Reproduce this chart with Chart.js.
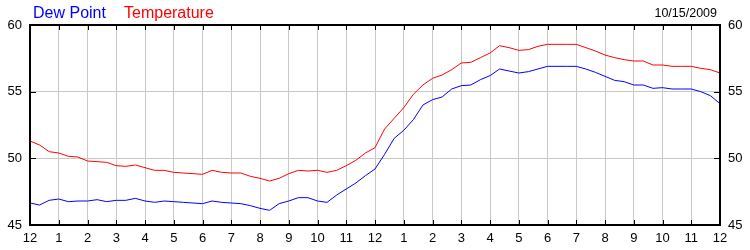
<!DOCTYPE html>
<html>
<head>
<meta charset="utf-8">
<script src="https://cdn.jsdelivr.net/npm/chart.js@4/dist/chart.umd.min.js"></script>
<style>
    body { margin: 0; background: #fff; font-family: "Liberation Sans", Arial, sans-serif; }
    #wrap { position: relative; width: 750px; height: 250px; }
    .hdr { position: absolute; white-space: nowrap; line-height: 16px; }
</style>
</head>
<body>
<div id="wrap">
    <canvas id="chart" width="750" height="250"></canvas>
    <span class="hdr" style="left:33px; top:5px; font-size:16px; color:#0000ff;">Dew Point</span>
    <span class="hdr" style="left:124px; top:5px; font-size:16px; color:#ff0000;">Temperature</span>
    <span class="hdr" style="right:33px; top:5px; font-size:12.5px; color:#000;">10/15/2009</span>
</div>
<script>
// 数据：每 20 分钟一个采样点，从 0 点到次日 0 点
const sampleMinutes = 20;

const dewPoint = [
    46.65, 46.5, 46.85, 46.95, 46.75, 46.8, 46.8, 46.9, 46.75, 46.85, 46.85, 47.0, 46.8, 46.7, 46.8, 46.75, 46.7, 46.65, 46.6,
    46.8, 46.7, 46.65, 46.6, 46.45, 46.25, 46.1, 46.6, 46.8, 47.05, 47.05, 46.8, 46.7, 47.25, 47.7, 48.15, 48.7, 49.2,
    50.3, 51.5, 52.1, 52.9, 54.0, 54.4, 54.6, 55.2, 55.45, 55.5, 55.9, 56.2, 56.7, 56.55, 56.4, 56.5,
    56.7, 56.9, 56.9, 56.9, 56.9, 56.7, 56.45, 56.15, 55.85, 55.75, 55.5, 55.5, 55.25, 55.3, 55.2, 55.2, 55.2, 55.0, 54.7, 54.1
];

const temperature = [
    51.3, 51.0, 50.5, 50.4, 50.15, 50.1, 49.8, 49.75, 49.7, 49.45, 49.4, 49.5, 49.3, 49.1, 49.1, 48.95, 48.9, 48.85, 48.8,
    49.1, 48.95, 48.9, 48.9, 48.65, 48.5, 48.3, 48.5, 48.85, 49.1, 49.05, 49.1, 48.95, 49.1, 49.45, 49.85, 50.4, 50.8,
    52.2, 53.0, 53.8, 54.8, 55.5, 56.0, 56.25, 56.65, 57.15, 57.2, 57.55, 57.9, 58.45, 58.3, 58.1, 58.15,
    58.4, 58.55, 58.55, 58.55, 58.55, 58.3, 58.05, 57.75, 57.55, 57.4, 57.3, 57.3, 57.0, 57.0, 56.9, 56.9, 56.9, 56.75, 56.65, 56.4
];

const yTicks = [45, 50, 55, 60];

const toPoints = (arr) => arr.map((v, i) => ({ x: i * sampleMinutes / 60, y: v }));

// 12 小时制标签
const hourLabel = (h) => String((h % 12) || 12);

// 边框和向内的小刻度
const framePlugin = {
    id: 'frame',
    afterDraw(chart) {
        const { ctx, chartArea: a, scales } = chart;
        ctx.save();
        ctx.strokeStyle = '#000';
        ctx.lineWidth = 1;
        ctx.beginPath();
        for (let h = 1; h < 24; h++) {
            const x = Math.round(scales.x.getPixelForValue(h)) + 0.5;
            ctx.moveTo(x, a.top); ctx.lineTo(x, a.top + 5);
            ctx.moveTo(x, a.bottom); ctx.lineTo(x, a.bottom - 5);
        }
        [50, 55].forEach(v => {
            const y = Math.round(scales.y.getPixelForValue(v)) + 0.5;
            ctx.moveTo(a.left, y); ctx.lineTo(a.left + 6, y);
            ctx.moveTo(a.right, y); ctx.lineTo(a.right - 6, y);
        });
        ctx.stroke();
        ctx.lineWidth = 2;
        ctx.strokeRect(a.left, a.top, a.right - a.left, a.bottom - a.top);
        ctx.restore();
    }
};

const tickFont = { family: '"Liberation Sans", Arial, sans-serif', size: 13 };

new Chart(document.getElementById('chart'), {
    type: 'line',
    data: {
        datasets: [
            { label: 'Dew Point', data: toPoints(dewPoint), borderColor: '#0000ff', borderWidth: 1, pointRadius: 0, tension: 0 },
            { label: 'Temperature', data: toPoints(temperature), borderColor: '#ff0000', borderWidth: 1, pointRadius: 0, tension: 0 }
        ]
    },
    options: {
        responsive: false,
        animation: false,
        events: [],
        layout: { padding: { top: 25, left: 0, right: 0, bottom: 0 } },
        plugins: { legend: { display: false }, tooltip: { enabled: false } },
        scales: {
            x: {
                type: 'linear',
                min: 0,
                max: 24,
                afterFit(scale) { scale.height = 25; },
                grid: { color: '#c8c8c8', lineWidth: 1, drawTicks: false },
                border: { display: false },
                ticks: {
                    stepSize: 1,
                    autoSkip: false,
                    maxRotation: 0,
                    padding: 6,
                    color: '#000',
                    font: tickFont,
                    callback: (v) => hourLabel(v)
                }
            },
            y: {
                position: 'left',
                min: 45,
                max: 60,
                afterFit(scale) { scale.width = 30; },
                afterBuildTicks(scale) { scale.ticks = yTicks.map(v => ({ value: v })); },
                grid: { color: '#c8c8c8', lineWidth: 1, drawTicks: false },
                border: { display: false },
                ticks: { padding: 8, color: '#000', font: tickFont }
            },
            y2: {
                position: 'right',
                min: 45,
                max: 60,
                afterFit(scale) { scale.width = 30; },
                afterBuildTicks(scale) { scale.ticks = yTicks.map(v => ({ value: v })); },
                grid: { display: false, drawTicks: false },
                border: { display: false },
                ticks: { padding: 8, color: '#000', font: tickFont }
            }
        }
    },
    plugins: [framePlugin]
});
</script>
</body>
</html>
